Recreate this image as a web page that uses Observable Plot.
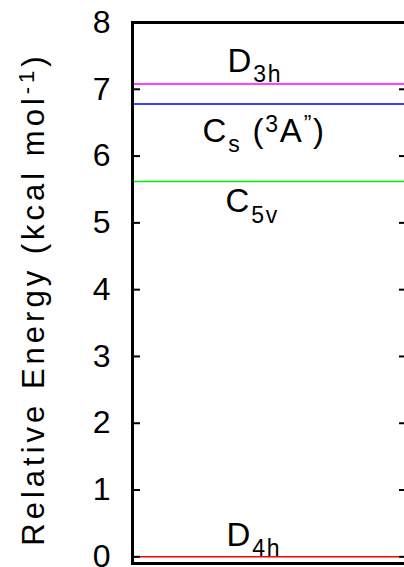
<!DOCTYPE html>
<html><head><meta charset="utf-8">
<style>
html,body{margin:0;padding:0;overflow:hidden;background:#fff}
svg{max-width:none !important}
.ylab text{letter-spacing:4px}
.lvl text{letter-spacing:1.8px}
</style>
<script src="https://cdn.jsdelivr.net/npm/d3@7"></script>
<script src="https://cdn.jsdelivr.net/npm/@observablehq/plot@0.6"></script>
</head><body><div id="chart"></div>
<script>
// ---- data ----
const states = ["D_{4h}", "C_{5v}", "C_{s} (^{3}A^{”})", "D_{3h}"];
const energies = [0, 5.62, 6.78, 7.08];
const colors = ["#ff0000", "#00ee00", "#0000ff", "#ff00ff"];
const yTicks = [0, 1, 2, 3, 4, 5, 6, 7, 8];
const yLabel = "Relative Energy (kcal mol^{-1})";

const levels = states.map((s, i) => ({state: s, energy: energies[i], color: colors[i]}));
const font = "'Liberation Sans', Arial, Helvetica, sans-serif";
const W = 412, H = 567, ML = 132, MR = 5, MT = 22, MB = 4;
const frameW = W - ML - MR;
const tickLen = 8;
const byState = i => [levels[i]];

const chart = Plot.plot({
  width: W, height: H,
  marginLeft: ML, marginRight: MR, marginTop: MT, marginBottom: MB,
  style: {fontFamily: font, background: "white", color: "black", overflow: "visible", maxWidth: "none"},
  y: {domain: [-0.1, 8]},
  color: {type: "identity"},
  marks: [
    Plot.ruleY(levels, {y: "energy", stroke: "color", strokeWidth: 1.6}),
    Plot.tickY(yTicks, {y: d => d, stroke: "black", strokeWidth: 2, insetRight: frameW - tickLen}),
    Plot.tickY(yTicks, {y: d => d, stroke: "black", strokeWidth: 2, insetLeft: frameW - tickLen}),
    Plot.axisY({ticks: yTicks, tickSize: 0, tickPadding: 22, fontSize: 32, tickFormat: d => String(d), label: null}),
    Plot.frame({stroke: "black", strokeWidth: 3}),
    Plot.text([yLabel], {frameAnchor: "left", rotate: -90, dx: -89, dy: 6, lineAnchor: "bottom", textAnchor: "middle", fontSize: 31, className: "rich ylab"}),
    Plot.text(byState(3), {y: "energy", text: "state", frameAnchor: "left", textAnchor: "start", lineAnchor: "bottom", dx: 95, dy: -12, fontSize: 33, className: "rich lvl"}),
    Plot.text(byState(2), {y: "energy", text: "state", frameAnchor: "left", textAnchor: "start", lineAnchor: "bottom", dx: 70, dy: 38, fontSize: 33, className: "rich lvl"}),
    Plot.text(byState(1), {y: "energy", text: "state", frameAnchor: "left", textAnchor: "start", lineAnchor: "bottom", dx: 93, dy: 31, fontSize: 33, className: "rich lvl"}),
    Plot.text(byState(0), {y: "energy", text: "state", frameAnchor: "left", textAnchor: "start", lineAnchor: "bottom", dx: 94, dy: -11, fontSize: 33, className: "rich lvl"})
  ]
});
document.getElementById("chart").appendChild(chart);

// rich text: _{sub} and ^{sup}
function richify(textEl) {
  const s = textEl.textContent;
  const fs = parseFloat(getComputedStyle(textEl).fontSize) || 30;
  const sel = d3.select(textEl);
  sel.text(null);
  const re = /([_^])\{([^}]*)\}/g;
  let last = 0, m;
  const parts = [];
  while ((m = re.exec(s))) {
    if (m.index > last) parts.push({t: s.slice(last, m.index), k: 0});
    parts.push({t: m[2], k: m[1] === "_" ? 1 : -1});
    last = re.lastIndex;
  }
  if (last < s.length) parts.push({t: s.slice(last), k: 0});
  const off = fs * 0.31, sub = Math.round(fs * 0.7);
  let cur = 0;
  for (const p of parts) {
    const target = p.k * off;
    const ts = sel.append("tspan").attr("dy", target - cur).text(p.t);
    if (p.k) ts.attr("font-size", sub);
    cur = target;
  }
}
d3.select(chart).selectAll(".rich text").each(function() { richify(this); });
</script>
</body></html>
